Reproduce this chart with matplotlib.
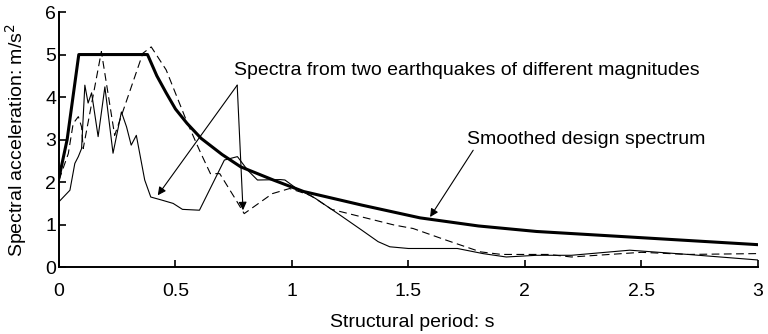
import matplotlib
matplotlib.use("Agg")
import matplotlib.pyplot as plt

# --- data ----------------------------------------------------------
design_T = [0, 0.035, 0.085, 0.38, 0.42, 0.46, 0.50, 0.55, 0.61, 0.70,
            0.78, 0.92, 1.05, 1.3, 1.55, 1.8, 2.05, 2.45, 3.0]
design_sa = [2.1, 3.0, 5.0, 5.0, 4.5, 4.1, 3.72, 3.38, 3.03, 2.65,
             2.36, 2.05, 1.78, 1.46, 1.16, 0.97, 0.84, 0.71, 0.53]

quake1_T = [0.0, 0.047, 0.068, 0.083, 0.097, 0.111, 0.125, 0.14, 0.168,
            0.197, 0.232, 0.268, 0.29, 0.31, 0.332, 0.368, 0.394, 0.44,
            0.49, 0.53, 0.603, 0.71, 0.766, 0.81, 0.852, 0.95, 0.97,
            1.02, 1.1, 1.2, 1.3, 1.37, 1.42, 1.5, 1.71, 1.82, 1.92,
            2.05, 2.2, 2.45, 2.7, 3.0]
quake1_sa = [1.54, 1.81, 2.44, 2.6, 2.79, 4.28, 3.86, 4.1, 3.07,
             4.24, 2.68, 3.65, 3.3, 2.87, 3.1, 2.05, 1.65, 1.58,
             1.5, 1.36, 1.34, 2.52, 2.6, 2.28, 2.05, 2.06, 2.05,
             1.85, 1.62, 1.25, 0.87, 0.6, 0.48, 0.44, 0.44, 0.32, 0.24,
             0.28, 0.28, 0.4, 0.3, 0.17]

quake2_T = [0.0, 0.04, 0.061, 0.083, 0.097, 0.104, 0.182, 0.239, 0.36,
            0.396, 0.46, 0.546, 0.603, 0.65, 0.69, 0.76, 0.795, 0.916,
            0.99, 1.08, 1.17, 1.44, 1.52, 1.66, 1.81, 1.9, 2.1, 2.2,
            2.5, 2.7, 3.0]
quake2_sa = [2.05, 2.67, 3.38, 3.54, 3.3, 2.79, 5.07, 3.1, 5.03,
             5.18, 4.64, 3.46, 2.75, 2.2, 2.2, 1.58, 1.26, 1.73,
             1.85, 1.69, 1.36, 0.99, 0.91, 0.64, 0.36, 0.3, 0.3, 0.24,
             0.35, 0.3, 0.32]

x_ticks = [0, 0.5, 1, 1.5, 2, 2.5, 3]
x_tick_labels = ["0", "0.5", "1", "1.5", "2", "2.5", "3"]
y_ticks = [0, 1, 2, 3, 4, 5, 6]

plt.rcParams["font.family"] = ["Liberation Sans", "DejaVu Sans"]
FS = 14

fig = plt.figure(figsize=(7.68, 3.34), dpi=100)
ax = fig.add_axes([0.0768, 0.2, 0.91, 0.764])

ax.plot(design_T, design_sa, color="black", lw=2.2, solid_joinstyle="round")
ax.plot(quake1_T, quake1_sa, color="black", lw=0.8)
ax.plot(quake2_T, quake2_sa, color="black", lw=0.8, ls=(0, (7, 4)))

ax.set_xlim(0, 3)
ax.set_ylim(0, 6)
ax.set_xticks(x_ticks)
ax.set_xticklabels(x_tick_labels)
ax.set_yticks(y_ticks)
ax.tick_params(direction="in", length=5, width=1.2, labelsize=FS)
ax.tick_params(axis="x", pad=11.5)
ax.tick_params(axis="y", pad=2)
for side in ("top", "right"):
    ax.spines[side].set_visible(False)
for side in ("left", "bottom"):
    ax.spines[side].set_linewidth(1.4)

ax.set_xlabel("Structural period: s", fontsize=FS)
ax.set_ylabel("Spectral acceleration: m/s$^2$", fontsize=FS)
ax.xaxis.set_label_coords(0.505, -0.182)
ax.yaxis.set_label_coords(-0.043, 0.5)

# --- annotations ----------------------------------------------------
arrow = dict(arrowstyle="-|>", lw=0.8, color="black", mutation_scale=12,
             shrinkA=0, shrinkB=0)
ax.text(0.75, 4.52, "Spectra from two earthquakes of different magnitudes",
        fontsize=FS, va="baseline", ha="left")
ax.annotate("", xy=(0.424, 1.69), xytext=(0.765, 4.28), arrowprops=arrow)
ax.annotate("", xy=(0.79, 1.34), xytext=(0.765, 4.28), arrowprops=arrow)

ax.text(1.75, 2.89, "Smoothed design spectrum", fontsize=FS,
        va="baseline", ha="left")
ax.annotate("", xy=(1.593, 1.18), xytext=(1.778, 2.75), arrowprops=arrow)

fig.savefig("out.png", dpi=100)
